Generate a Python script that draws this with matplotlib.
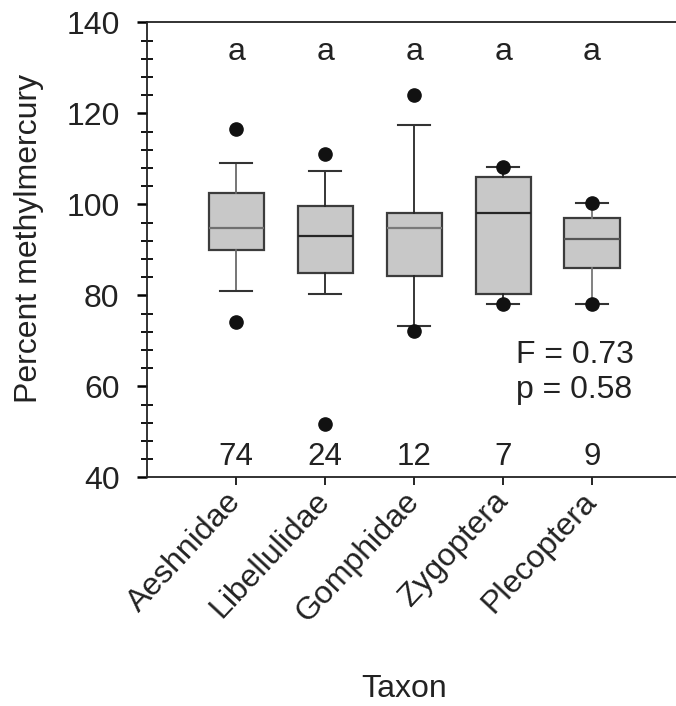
import matplotlib
matplotlib.use('Agg')
import matplotlib.pyplot as plt
from matplotlib.ticker import MultipleLocator
from matplotlib.transforms import ScaledTranslation

plt.rcParams['font.family'] = ['Liberation Sans', 'DejaVu Sans']

# box statistics
taxa = ['Aeshnidae', 'Libellulidae', 'Gomphidae', 'Zygoptera', 'Plecoptera']
medians = [94.9, 93.1, 94.9, 98.0, 92.3]
q1 = [90.0, 84.8, 84.3, 80.2, 86.1]
q3 = [102.5, 99.6, 98.0, 106.1, 97.0]
whis_lo = [81.0, 80.3, 73.3, 78.0, 78.2]
whis_hi = [109.0, 107.3, 117.4, 108.3, 100.2]
outliers = [[116.5, 74.1], [111.1, 51.7], [124.0, 72.2], [108.3, 78.0], [100.2, 78.2]]
n_samples = ['74', '24', '12', '7', '9']
group_letters = ['a', 'a', 'a', 'a', 'a']
stats_text = 'F = 0.73\np = 0.58'

fig = plt.figure(figsize=(6.76, 7.06), dpi=100)
ax = fig.add_axes([0.2179, 0.3239, 0.7895, 0.6445])

positions = list(range(1, len(taxa) + 1))
bxp_stats = []
for i in range(len(taxa)):
    bxp_stats.append({'med': medians[i], 'q1': q1[i], 'q3': q3[i],
                      'whislo': whis_lo[i], 'whishi': whis_hi[i],
                      'fliers': outliers[i]})

med_colors = ['#707070', '#262626', '#7a7a7a', '#262626', '#555555']
whisk_colors = ['#6a6a6a', '#262626', '#262626', '#262626', '#777777']

bp = ax.bxp(bxp_stats, positions=positions, widths=0.62, capwidths=0.36,
            patch_artist=True, showfliers=True,
            boxprops=dict(facecolor='#c8c8c8', edgecolor='#3c3c3c', linewidth=1.6),
            whiskerprops=dict(color='#333333', linewidth=1.3),
            capprops=dict(color='#333333', linewidth=1.5),
            medianprops=dict(color='#333333', linewidth=1.6),
            flierprops=dict(marker='o', markerfacecolor='#111111',
                            markeredgecolor='#111111', markersize=9.5))
for i in range(len(taxa)):
    bp['medians'][i].set_color(med_colors[i])
    bp['whiskers'][2 * i].set_color(whisk_colors[i])
    bp['whiskers'][2 * i + 1].set_color(whisk_colors[i])

ax.set_xlim(0, 6)
ax.set_ylim(40, 140)
ax.yaxis.set_major_locator(MultipleLocator(20))
ax.yaxis.set_minor_locator(MultipleLocator(4))
ax.set_xticks(positions)
ax.set_xticklabels(taxa, rotation=47, ha='right', va='center',
                   rotation_mode='anchor', fontsize=23, color='#222222')
shift = ScaledTranslation(8 / 100, -16 / 100, fig.dpi_scale_trans)
for lab in ax.get_xticklabels():
    lab.set_transform(lab.get_transform() + shift)
ax.tick_params(axis='x', direction='out', length=6, width=1.2, pad=8)
ax.tick_params(axis='y', which='major', direction='out', length=7, width=1.8,
               labelsize=23, pad=13, labelcolor='#222222')
ax.tick_params(axis='y', which='minor', direction='inout', length=8, width=1.3)

for s in ax.spines.values():
    s.set_linewidth(1.3)
    s.set_color('#222222')

for i, p in enumerate(positions):
    ax.text(p, 133.5, group_letters[i], ha='center', va='center', fontsize=23, color='#222222')
    ax.text(p, 44.5, n_samples[i], ha='center', va='center', fontsize=22.5, color='#222222')

ax.text(4.15, 63.1, stats_text, ha='left', va='center', fontsize=23,
        linespacing=1.2, color='#222222')

ax.set_ylabel('Percent methylmercury', fontsize=23, color='#222222', va='center')
ax.yaxis.set_label_coords(-0.222, 0.524)
ax.set_xlabel('Taxon', fontsize=23, color='#222222', va='center')
ax.xaxis.set_label_coords(0.482, -0.465)

fig.savefig('out.png', dpi=100, facecolor='white')
